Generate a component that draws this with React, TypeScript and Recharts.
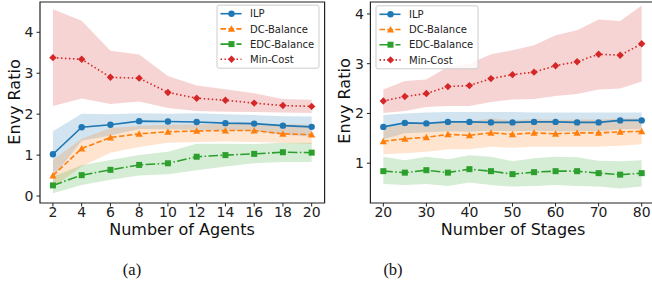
import React from 'react';
import { ComposedChart, Area, Line, XAxis, YAxis, ReferenceArea } from 'recharts';

// (a) envy ratio vs number of agents
const agents = [2, 4, 6, 8, 10, 12, 14, 16, 18, 20];
const ilpA = [1.02, 1.68, 1.74, 1.83, 1.82, 1.81, 1.78, 1.77, 1.72, 1.69];
const ilpALo = [0.46, 1.35, 1.48, 1.64, 1.63, 1.62, 1.6, 1.58, 1.5, 1.45];
const ilpAHi = [1.58, 2.01, 2.0, 2.02, 2.01, 2.02, 2.0, 1.98, 1.95, 1.94];
const dcA = [0.5, 1.16, 1.43, 1.52, 1.57, 1.59, 1.6, 1.6, 1.52, 1.5];
const dcALo = [0.22, 0.72, 1.06, 1.2, 1.3, 1.32, 1.33, 1.32, 1.3, 1.27];
const dcAHi = [0.88, 1.4, 1.66, 1.72, 1.74, 1.75, 1.76, 1.76, 1.76, 1.74];
const edcA = [0.26, 0.51, 0.64, 0.76, 0.8, 0.96, 1.0, 1.03, 1.07, 1.06];
const edcALo = [0.07, 0.27, 0.4, 0.5, 0.53, 0.63, 0.72, 0.8, 0.83, 0.83];
const edcAHi = [0.48, 0.75, 0.88, 1.0, 1.08, 1.28, 1.28, 1.27, 1.3, 1.3];
const minA = [3.38, 3.34, 2.9, 2.88, 2.53, 2.39, 2.34, 2.27, 2.21, 2.19];
const minALo = [2.2, 2.38, 2.25, 2.31, 2.15, 2.08, 2.06, 2.05, 2.04, 2.03];
const minAHi = [4.56, 4.28, 3.55, 3.46, 2.93, 2.7, 2.61, 2.51, 2.37, 2.35];

// (b) envy ratio vs number of stages
const stages = [20, 25, 30, 35, 40, 45, 50, 55, 60, 65, 70, 75, 80];
const ilpB = [1.73, 1.81, 1.8, 1.83, 1.83, 1.82, 1.82, 1.83, 1.83, 1.82, 1.82, 1.86, 1.86];
const ilpBLo = [1.48, 1.6, 1.62, 1.64, 1.63, 1.65, 1.64, 1.65, 1.64, 1.64, 1.64, 1.68, 1.68];
const ilpBHi = [1.97, 2.0, 2.02, 2.03, 2.03, 2.03, 2.03, 2.02, 2.02, 2.02, 2.02, 2.02, 2.02];
const dcB = [1.44, 1.49, 1.52, 1.58, 1.56, 1.61, 1.58, 1.61, 1.59, 1.61, 1.61, 1.63, 1.64];
const dcBLo = [1.18, 1.2, 1.23, 1.28, 1.28, 1.33, 1.31, 1.33, 1.33, 1.33, 1.33, 1.35, 1.38];
const dcBHi = [1.72, 1.78, 1.8, 1.86, 1.84, 1.9, 1.86, 1.89, 1.87, 1.88, 1.88, 1.9, 1.9];
const edcB = [0.84, 0.81, 0.86, 0.81, 0.88, 0.84, 0.78, 0.82, 0.84, 0.84, 0.8, 0.77, 0.8];
const edcBLo = [0.58, 0.56, 0.58, 0.54, 0.61, 0.56, 0.53, 0.54, 0.56, 0.54, 0.53, 0.49, 0.53];
const edcBHi = [1.13, 1.06, 1.13, 1.08, 1.16, 1.13, 1.04, 1.1, 1.13, 1.12, 1.05, 1.04, 1.06];
const minB = [2.25, 2.34, 2.4, 2.54, 2.56, 2.7, 2.78, 2.83, 2.96, 3.04, 3.19, 3.17, 3.4];
const minBLo = [2.01, 2.05, 2.13, 2.15, 2.15, 2.23, 2.28, 2.29, 2.35, 2.39, 2.48, 2.5, 2.64];
const minBHi = [2.48, 2.65, 2.68, 2.94, 3.0, 3.19, 3.27, 3.37, 3.57, 3.67, 3.89, 3.86, 4.17];

const ticksA = [2, 4, 6, 8, 10, 12, 14, 16, 18, 20];
const ticksB = [20, 30, 40, 50, 60, 70, 80];
const yTicksA = [0, 1, 2, 3, 4];
const yTicksB = [1, 2, 3, 4];

const C = { ilp: '#1f77b4', dc: '#ff7f0e', edc: '#2ca02c', min: '#d62728' };
const FONT = 'DejaVu Sans';

function buildRows(xs: number[], s: number[][]) {
  return xs.map((x, i) => ({
    x,
    ilp: s[0][i], ilpBand: [s[1][i], s[2][i]],
    dc: s[3][i], dcBand: [s[4][i], s[5][i]],
    edc: s[6][i], edcBand: [s[7][i], s[8][i]],
    min: s[9][i], minBand: [s[10][i], s[11][i]],
  }));
}

const rowsA = buildRows(agents, [ilpA, ilpALo, ilpAHi, dcA, dcALo, dcAHi, edcA, edcALo, edcAHi, minA, minALo, minAHi]);
const rowsB = buildRows(stages, [ilpB, ilpBLo, ilpBHi, dcB, dcBLo, dcBHi, edcB, edcBLo, edcBHi, minB, minBLo, minBHi]);

type Shape = 'circle' | 'tri' | 'square' | 'diamond';

function drawMarker(shape: Shape, color: string, cx: number, cy: number, key?: any) {
  if (shape === 'circle') return <circle key={key} cx={cx} cy={cy} r={3.2} fill={color} />;
  if (shape === 'tri') {
    const s = 3.6;
    return <polygon key={key} points={`${cx},${cy - s} ${cx + s},${cy + s * 0.8} ${cx - s},${cy + s * 0.8}`} fill={color} />;
  }
  if (shape === 'square') return <rect key={key} x={cx - 3} y={cy - 3} width={6} height={6} fill={color} />;
  const d = 3.7;
  return <polygon key={key} points={`${cx},${cy - d} ${cx + d},${cy} ${cx},${cy + d} ${cx - d},${cy}`} fill={color} />;
}

const dotFor = (shape: Shape, color: string) => (p: any) => {
  if (p.cx == null || p.cy == null) return <g key={p.index} />;
  return drawMarker(shape, color, p.cx, p.cy, p.index);
};

const series = [
  { key: 'ilp', name: 'ILP', color: C.ilp, dash: undefined, shape: 'circle' as Shape },
  { key: 'dc', name: 'DC-Balance', color: C.dc, dash: '5.5 2.4', shape: 'tri' as Shape },
  { key: 'edc', name: 'EDC-Balance', color: C.edc, dash: '9.6 2.4 1.5 2.4', shape: 'square' as Shape },
  { key: 'min', name: 'Min-Cost', color: C.min, dash: '1.5 2.5', shape: 'diamond' as Shape },
];

function Panel({ rows, xDomain, xTicks, yDomain, yTicks, yWidth }: any) {
  return (
    <ComposedChart width={330} height={240} data={rows} margin={{ top: 2, right: 5.4, bottom: 0, left: 0 }}>
      <XAxis
        dataKey="x"
        type="number"
        domain={xDomain}
        ticks={xTicks}
        interval={0}
        allowDataOverflow
        height={37}
        axisLine={false}
        tickSize={3.5}
        tickMargin={1}
        tickLine={{ stroke: '#222' }}
        tick={{ fill: '#222', fontSize: 14, fontFamily: FONT }}
      />
      <YAxis
        type="number"
        domain={yDomain}
        ticks={yTicks}
        interval={0}
        allowDataOverflow
        width={yWidth}
        axisLine={false}
        tickSize={3.5}
        tickMargin={3}
        tickLine={{ stroke: '#222' }}
        tick={{ fill: '#222', fontSize: 14, fontFamily: FONT }}
      />
      {series.map((s) => (
        <Area
          key={s.key + 'Band'}
          dataKey={s.key + 'Band'}
          type="linear"
          stroke="none"
          fill={s.color}
          fillOpacity={0.2}
          activeDot={false}
          isAnimationActive={false}
        />
      ))}
      {series.map((s) => (
        <Line
          key={s.key}
          dataKey={s.key}
          type="linear"
          stroke={s.color}
          strokeWidth={1.6}
          strokeDasharray={s.dash}
          dot={dotFor(s.shape, s.color)}
          activeDot={false}
          isAnimationActive={false}
        />
      ))}
      <ReferenceArea
        x1={xDomain[0]}
        x2={xDomain[1]}
        y1={yDomain[0]}
        y2={yDomain[1]}
        fill="none"
        fillOpacity={0}
        stroke="#222"
        strokeWidth={1.2}
        ifOverflow="visible"
      />
    </ComposedChart>
  );
}

function LegendBox({ x, y }: { x: number; y: number }) {
  return (
    <g>
      <rect x={x} y={y} width={102} height={63} rx={2} fill="#fff" fillOpacity={0.8} stroke="#cccccc" strokeWidth={1} />
      {series.map((s, i) => {
        const cy = y + 8.5 + i * 15.2;
        return (
          <g key={s.key}>
            <line x1={x + 3.5} x2={x + 24.5} y1={cy} y2={cy} stroke={s.color} strokeWidth={1.6} strokeDasharray={s.dash} />
            {drawMarker(s.shape, s.color, x + 14.5, cy)}
            <text x={x + 33} y={cy + 3.7} fontSize={10} fontFamily={FONT} fill="#222">
              {s.name}
            </text>
          </g>
        );
      })}
    </g>
  );
}

export default function App() {
  return (
    <div style={{ position: 'absolute', left: 0, top: 0, width: 652, height: 291, overflow: 'hidden', background: '#fff' }}>
      <div style={{ position: 'absolute', left: 0, top: 0 }}>
        <Panel rows={rowsA} xDomain={[1.1, 20.9]} xTicks={ticksA} yDomain={[-0.17, 4.74]} yTicks={yTicksA} yWidth={40} />
      </div>
      <div style={{ position: 'absolute', left: 330, top: 0 }}>
        <Panel rows={rowsB} xDomain={[17, 83]} xTicks={ticksB} yDomain={[0.2, 4.24]} yTicks={yTicksB} yWidth={40.4} />
      </div>
      <svg width={652} height={291} style={{ position: 'absolute', left: 0, top: 0, pointerEvents: 'none' }}>
        <LegendBox x={217} y={5.2} />
        <LegendBox x={376} y={5.8} />
        <text x={182} y={235} textAnchor="middle" fontSize={16} fontFamily={FONT} fill="#111">Number of Agents</text>
        <text x={513} y={235} textAnchor="middle" fontSize={16} fontFamily={FONT} fill="#111">Number of Stages</text>
        <text transform="translate(20,102) rotate(-90)" textAnchor="middle" fontSize={16} fontFamily={FONT} fill="#111">Envy Ratio</text>
        <text transform="translate(350,101) rotate(-90)" textAnchor="middle" fontSize={16} fontFamily={FONT} fill="#111">Envy Ratio</text>
        <text x={132} y={274.5} textAnchor="middle" fontSize={16.5} fontFamily="Liberation Serif" fill="#111">(a)</text>
        <text x={393} y={274.5} textAnchor="middle" fontSize={16.5} fontFamily="Liberation Serif" fill="#111">(b)</text>
      </svg>
    </div>
  );
}
